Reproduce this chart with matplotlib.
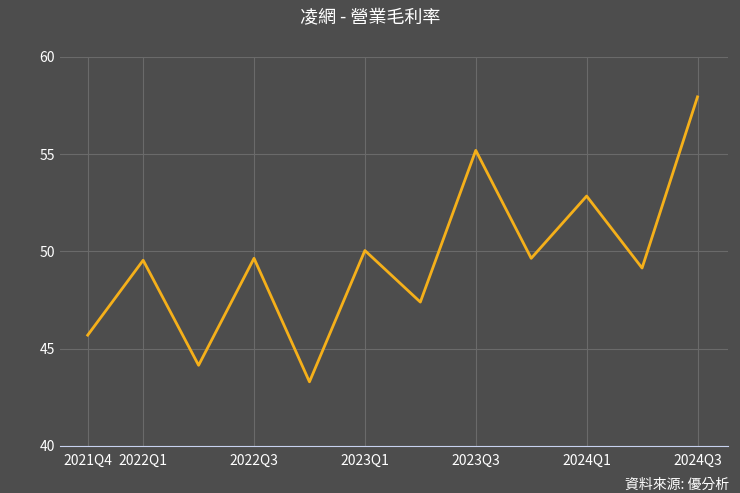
import matplotlib
matplotlib.use("Agg")
import matplotlib.pyplot as plt

plt.rcParams['font.family'] = ['Noto Sans CJK TC', 'DejaVu Sans']

quarters = ["2021Q4","2022Q1","2022Q2","2022Q3","2022Q4","2023Q1","2023Q2",
            "2023Q3","2023Q4","2024Q1","2024Q2","2024Q3"]
values = [45.7, 49.55, 44.15, 49.65, 43.3, 50.05, 47.4, 55.2, 49.65, 52.85, 49.15, 57.95]
tick_labels = ["2021Q4","2022Q1","2022Q3","2023Q1","2023Q3","2024Q1","2024Q3"]

bg = "#4d4d4d"
fig = plt.figure(figsize=(7.4, 4.93), dpi=100, facecolor=bg)
ax = fig.add_axes([60/740, 1-446/493, 668/740, (446-57)/493], facecolor=bg)
x = list(range(len(quarters)))
ax.plot(x, values, color="#f5b01a", lw=2)
ax.set_ylim(40, 60)
ax.set_yticks([40, 45, 50, 55, 60])
ax.set_xlim(-0.5, 11.55)
ticks = [quarters.index(t) for t in tick_labels]
ax.set_xticks(ticks)
ax.set_xticklabels(tick_labels)
ax.grid(True, color="#6a6a6a", lw=0.8)
ax.set_axisbelow(True)
for s in ["top", "right", "left"]:
    ax.spines[s].set_visible(False)
ax.spines["bottom"].set_color("#c8d2f0")
ax.tick_params(colors="white", labelsize=10, length=0)
ax.tick_params(axis="x", pad=6)
fig.text(0.5, 1-18/493, "凌網 - 營業毛利率", color="white", fontsize=13, ha="center", va="center")
fig.text(0.985, 1-485/493, "資料來源: 優分析", color="white", fontsize=10, ha="right", va="center")
fig.savefig("out.png", dpi=100, facecolor=bg)
